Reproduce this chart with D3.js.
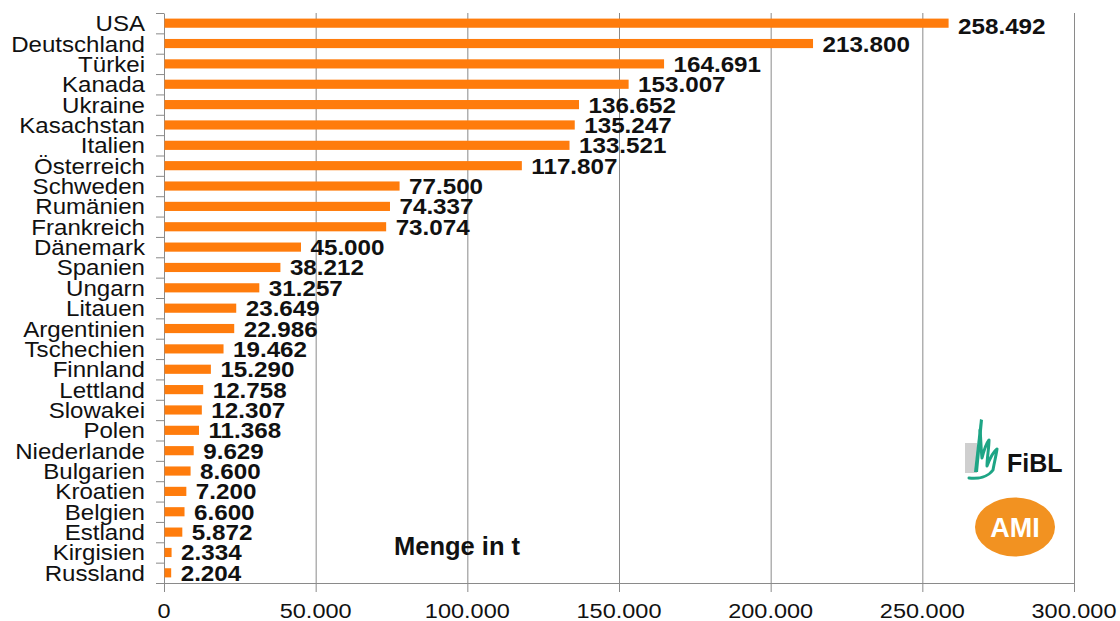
<!DOCTYPE html>
<html>
<head>
<meta charset="utf-8">
<script src="https://cdn.jsdelivr.net/npm/d3@7"></script>
<style>
  html, body { margin: 0; padding: 0; background: #fff; }
  svg { display: block; }
  text { font-family: "Liberation Sans", Arial, sans-serif; fill: #111; }
</style>
</head>
<body>
<svg id="chart" width="1120" height="621"></svg>
<script>
// Menge in Tonnen je Land
const countries = ["USA", "Deutschland", "Türkei", "Kanada", "Ukraine", "Kasachstan", "Italien",
  "Österreich", "Schweden", "Rumänien", "Frankreich", "Dänemark", "Spanien", "Ungarn", "Litauen",
  "Argentinien", "Tschechien", "Finnland", "Lettland", "Slowakei", "Polen", "Niederlande",
  "Bulgarien", "Kroatien", "Belgien", "Estland", "Kirgisien", "Russland"];
const values = [258492, 213800, 164691, 153007, 136652, 135247, 133521, 117807, 77500, 74337,
  73074, 45000, 38212, 31257, 23649, 22986, 19462, 15290, 12758, 12307, 11368, 9629, 8600, 7200,
  6600, 5872, 2334, 2204];
const xTicks = [0, 50000, 100000, 150000, 200000, 250000, 300000];
const unitLabel = "Menge in t";

const svg = d3.select("#chart");
const margin = { left: 164, right: 46, top: 13, bottom: 38 };
const W = 1120, H = 621;
const x0 = margin.left, x1 = W - margin.right, y0 = margin.top, y1 = H - margin.bottom;

const de = d3.formatLocale({ decimal: ",", thousands: ".", grouping: [3], currency: ["", " €"] });
const fmt = de.format(",d");

const x = d3.scaleLinear().domain([0, 300000]).range([x0, x1]);
const y = d3.scaleBand().domain(countries).range([y0, y1]).paddingInner(0.55).paddingOuter(0.275);
const yEdge = d3.scaleLinear().domain([0, countries.length]).range([y0, y1]);

const gridColor = "#8a8a8a";

// vertical gridlines (extend below the axis as tick marks)
const grid = svg.append("g").attr("transform", `translate(0,${y0})`)
  .call(d3.axisBottom(x).tickValues(xTicks.slice(1)).tickSizeInner(y1 - y0 + 9).tickSizeOuter(0).tickFormat(""));
grid.select(".domain").remove();
grid.selectAll(".tick line").attr("stroke", gridColor).attr("stroke-width", 1);

// bottom axis line
const xAxis = svg.append("g").attr("transform", `translate(0,${y1})`)
  .call(d3.axisBottom(x).tickValues([0]).tickSizeInner(9).tickSizeOuter(0).tickFormat(""));
xAxis.select(".domain").attr("stroke", gridColor);
xAxis.selectAll(".tick line").attr("stroke", gridColor);

// left axis with ticks on category boundaries
const yAxis = svg.append("g").attr("transform", `translate(${x0},0)`)
  .call(d3.axisLeft(yEdge).tickValues(d3.range(countries.length + 1)).tickSizeInner(8).tickSizeOuter(0).tickFormat(""));
yAxis.select(".domain").attr("stroke", gridColor);
yAxis.selectAll(".tick line").attr("stroke", gridColor);

// bars
svg.append("g").selectAll("rect").data(countries).join("rect")
  .attr("x", x(0) + 0.5)
  .attr("y", d => y(d))
  .attr("width", (d, i) => x(values[i]) - x(0))
  .attr("height", y.bandwidth())
  .attr("fill", "#ff7c0c");

const cy = d => y(d) + y.bandwidth() / 2;

// country labels
svg.append("g").selectAll("text").data(countries).join("text")
  .attr("transform", d => `translate(${x0 - 19},${cy(d) + 8}) scale(1.07,1)`)
  .attr("text-anchor", "end")
  .attr("font-size", 22.5)
  .text(d => d);

// value labels
svg.append("g").selectAll("text").data(countries).join("text")
  .attr("transform", (d, i) => `translate(${x(values[i]) + 10},${cy(d) + (i === 0 ? 11 : 8)}) scale(1.1,1)`)
  .attr("font-size", 22)
  .attr("font-weight", "bold")
  .text((d, i) => fmt(values[i]));

// tick labels
svg.append("g").selectAll("text").data(xTicks).join("text")
  .attr("transform", d => `translate(${x(d)},${y1 + 35}) scale(1.12,1)`)
  .attr("text-anchor", "middle")
  .attr("font-size", 21)
  .text(d => fmt(d));

// unit label
svg.append("text")
  .attr("x", 394).attr("y", 555)
  .attr("font-size", 25.5)
  .attr("font-weight", "bold")
  .text(unitLabel);

// FiBL logo
const fibl = svg.append("g");
fibl.append("rect").attr("x", 965).attr("y", 443).attr("width", 12).attr("height", 30).attr("fill", "#cfcfcf");
fibl.append("path")
  .attr("d", "M 974 472 L 980 419 L 983 420 L 978 472 Z")
  .attr("fill", "#1ea585");
fibl.append("path")
  .attr("d", "M 980 430 C 981 440, 981 450, 982 458 C 984 450, 986 444, 989 440 C 989 448, 987 458, 987 466 C 990 458, 993 452, 997 449 C 996 456, 994 464, 993 470 C 988 477, 978 479, 969 478")
  .attr("fill", "none").attr("stroke", "#1ea585").attr("stroke-width", 3).attr("stroke-linecap", "round").attr("stroke-linejoin", "round");
fibl.append("text").attr("x", 1007).attr("y", 472).attr("font-size", 25).attr("font-weight", "bold")
  .style("fill", "#111").text("FiBL");

// AMI logo
const ami = svg.append("g");
ami.append("ellipse").attr("cx", 1015).attr("cy", 527).attr("rx", 40).attr("ry", 29.5).attr("fill", "#f29221");
ami.append("text").attr("x", 1015).attr("y", 537).attr("text-anchor", "middle")
  .attr("font-size", 27).attr("font-weight", "bold").style("fill", "#fff").text("AMI");
</script>
</body>
</html>
